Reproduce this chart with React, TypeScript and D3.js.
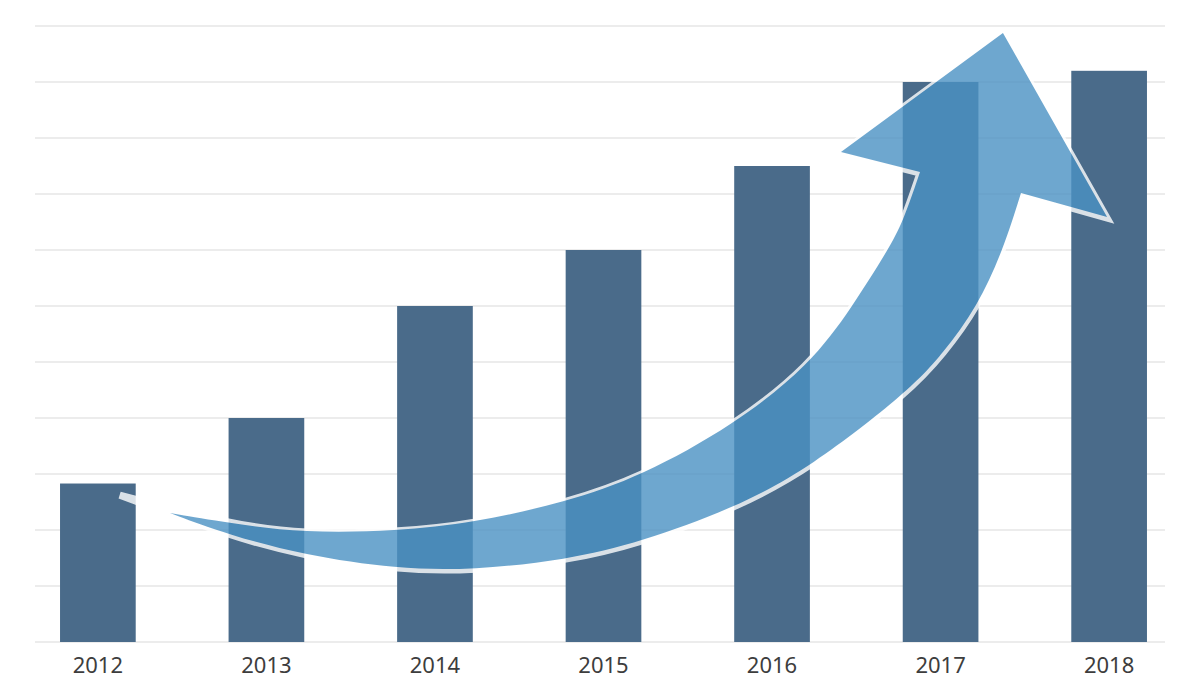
import React, { useRef, useEffect } from 'react';
import * as d3 from 'd3';

const years = ['2012', '2013', '2014', '2015', '2016', '2017', '2018'];
const values = [2.83, 4, 6, 7, 8.5, 10, 10.2];
const gridTicks = [0, 1, 2, 3, 4, 5, 6, 7, 8, 9, 10, 11];

// arrow outline: x as fractional bar index (0 = 2012), y in value units
const arrowLower: [number, number][] = [
  [0.428, 2.304], [0.778, 1.911], [1.223, 1.554], [1.775, 1.304], [2.226, 1.286],
  [2.778, 1.464], [3.223, 1.786], [3.774, 2.393], [4.225, 3.107], [4.819, 4.5],
  [5.015, 5.161], [5.217, 5.982], [5.371, 7.0], [5.477, 8.018]
];
const arrowHead: [number, number][] = [
  [5.988, 7.589], [5.37, 10.875], [4.409, 8.75], [4.878, 8.393]
];
const arrowUpper: [number, number][] = [
  [4.878, 8.393], [4.777, 7.5], [4.688, 7.0], [4.475, 5.982], [4.225, 4.95],
  [3.774, 3.875], [3.223, 2.96], [2.778, 2.5], [2.226, 2.125],
  [1.775, 1.982], [1.223, 1.946], [0.778, 2.125], [0.428, 2.304]
];
const shadowTail: [number, number] = [0.13, 2.64];

const W = 1200;
const H = 685;

export default function App() {
  const svgRef = useRef<SVGSVGElement>(null);

  useEffect(() => {
    document.body.style.margin = '0';
    if (!svgRef.current) return;
    const svg = d3.select(svgRef.current);
    svg.selectAll('*').remove();

    const x = d3.scaleBand<string>()
      .domain(years)
      .range([13.6, 1193.4])
      .paddingInner(0.551)
      .paddingOuter(0.2755);

    const y = d3.scaleLinear()
      .domain([0, 11])
      .range([642, 26]);

    const step = x.step();
    const x0 = (x(years[0]) as number) + x.bandwidth() / 2;
    const px = (i: number) => x0 + i * step;

    // grid
    svg.append('g')
      .selectAll('line')
      .data(gridTicks)
      .enter()
      .append('line')
      .attr('x1', 35)
      .attr('x2', 1165)
      .attr('y1', d => y(d))
      .attr('y2', d => y(d))
      .attr('stroke', '#e6e6e6')
      .attr('stroke-width', 1.5);

    // bars
    svg.append('g')
      .selectAll('rect')
      .data(values)
      .enter()
      .append('rect')
      .attr('x', (d, i) => x(years[i]) as number)
      .attr('y', d => y(d))
      .attr('width', x.bandwidth())
      .attr('height', d => y(0) - y(d))
      .attr('fill', '#4a6b8a');

    // year labels
    svg.append('g')
      .selectAll('text')
      .data(years)
      .enter()
      .append('text')
      .attr('x', d => (x(d) as number) + x.bandwidth() / 2)
      .attr('y', 673)
      .attr('text-anchor', 'middle')
      .attr('font-family', '"Noto Sans", sans-serif')
      .attr('font-size', '22px')
      .attr('fill', '#3d3d3d')
      .text(d => d);

    // arrow
    const curve = d3.line<[number, number]>()
      .x(d => px(d[0]))
      .y(d => y(d[1]))
      .curve(d3.curveBasis);

    const buildPath = (tail: [number, number]) => {
      const lower = [tail, ...arrowLower.slice(1)];
      const upper = [...arrowUpper.slice(0, -1), tail];
      const lowerD = curve(lower) as string;
      const headD = arrowHead.map(p => `L${px(p[0])},${y(p[1])}`).join('');
      const upperD = (curve(upper) as string).replace(/^M[^LC]*/, '');
      return `${lowerD}${headD}${upperD}Z`;
    };

    const arrow = svg.append('g').attr('opacity', 0.8);

    arrow.append('path')
      .attr('d', buildPath(shadowTail))
      .attr('transform', 'translate(0,1)')
      .attr('fill', '#ffffff')
      .attr('stroke', '#ffffff')
      .attr('stroke-width', 7)
      .attr('stroke-linejoin', 'miter');

    arrow.append('path')
      .attr('d', buildPath(arrowLower[0]))
      .attr('fill', '#4b92c4');
  }, []);

  return (
    <svg
      ref={svgRef}
      width={W}
      height={H}
      style={{ display: 'block', background: '#ffffff' }}
    />
  );
}
